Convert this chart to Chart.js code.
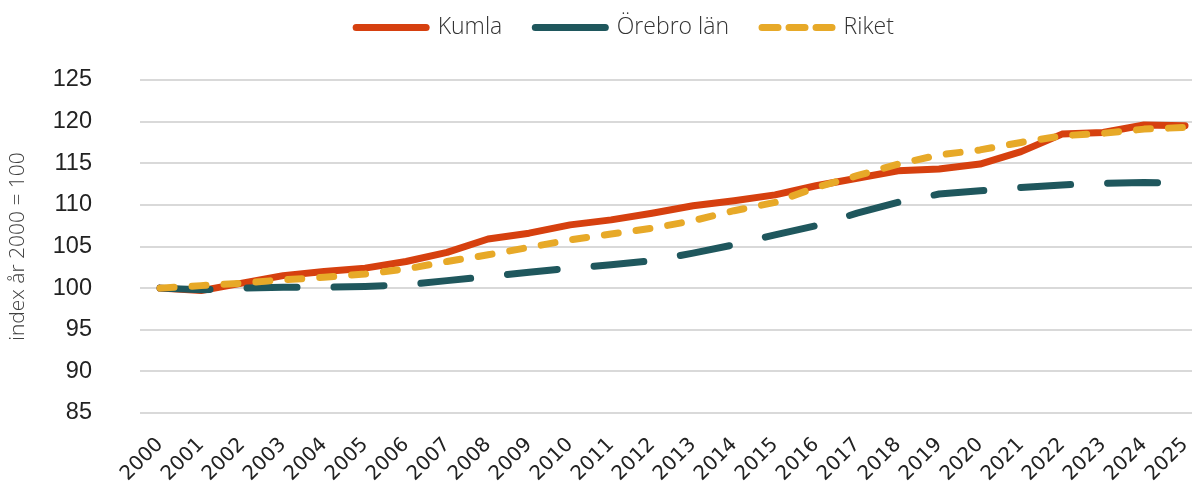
<!DOCTYPE html>
<html>
<head>
<meta charset="utf-8">
<script src="https://cdn.jsdelivr.net/npm/chart.js@4"></script>
<style>
  html, body { margin: 0; padding: 0; background: #fff; overflow: hidden; }
  #wrap { width: 1192px; height: 484px; }
</style>
</head>
<body>
<div id="wrap"><canvas id="graf"></canvas></div>
<script>
// data
const ar = [2000, 2001, 2002, 2003, 2004, 2005, 2006, 2007, 2008, 2009, 2010, 2011, 2012,
            2013, 2014, 2015, 2016, 2017, 2018, 2019, 2020, 2021, 2022, 2023, 2024, 2025];
const kumla  = [100, 99.7, 100.6, 101.5, 102.0, 102.4, 103.2, 104.3, 105.9, 106.6, 107.6, 108.2, 109.0,
                109.9, 110.5, 111.2, 112.3, 113.2, 114.1, 114.3, 114.9, 116.4, 118.5, 118.7, 119.6, 119.5];
const orebro = [100, 99.8, 100.0, 100.1, 100.1, 100.2, 100.4, 100.9, 101.4, 101.9, 102.4, 102.8, 103.3,
                104.2, 105.2, 106.4, 107.5, 109.0, 110.3, 111.3, 111.7, 112.1, 112.4, 112.6, 112.7, 112.6];
const riket  = [100, 100.3, 100.6, 101.0, 101.3, 101.7, 102.3, 103.2, 104.0, 104.9, 105.8, 106.5, 107.2,
                108.1, 109.3, 110.3, 112.1, 113.5, 114.9, 116.0, 116.6, 117.5, 118.3, 118.6, 119.1, 119.3];
const yTicks = [85, 90, 95, 100, 105, 110, 115, 120, 125];

const punkter = serie => serie.map((v, i) => ({ x: ar[i], y: v }));

// streck i förklaringen (legend) skiljer sig lite från linjen
const legendStreck = [[], [], [16, 11]];

function linje(namn, serie, farg, streck, ordning) {
  return {
    label: namn,
    data: punkter(serie),
    borderColor: farg,
    backgroundColor: farg,
    borderWidth: 7,
    borderDash: streck,
    borderCapStyle: "round",
    borderJoinStyle: "round",
    pointRadius: 0,
    tension: 0,
    order: ordning
  };
}

// extra luft under förklaringen, och lite förskjutning åt höger
const legendLuft = {
  id: "legendLuft",
  beforeInit(chart) {
    const fit = chart.legend.fit;
    chart.legend.fit = function () {
      fit.bind(chart.legend)();
      this.height += 31;
    };
  },
  afterLayout(chart) {
    chart.legend.left += 29;
    chart.legend.right += 29;
  }
};

new Chart(document.getElementById("graf"), {
  type: "line",
  data: {
    datasets: [
      linje("Kumla", kumla, "#d6400f", [], 3),
      linje("Örebro län", orebro, "#1f575d", [50, 37], 2),
      linje("Riket", riket, "#e7a928", [14, 18], 1)
    ]
  },
  plugins: [legendLuft],
  options: {
    responsive: true,
    maintainAspectRatio: false,
    animation: false,
    layout: { padding: { left: 0, right: 0, top: -17, bottom: 0 } },
    plugins: {
      tooltip: { enabled: false },
      legend: {
        position: "top",
        labels: {
          usePointStyle: true,
          pointStyle: "line",
          pointStyleWidth: 70,
          padding: 33,
          color: "#333",
          font: { family: "'Open Sans', sans-serif", size: 23, weight: "300" },
          sort: (a, b) => a.datasetIndex - b.datasetIndex,
          generateLabels: chart => {
            const items = Chart.defaults.plugins.legend.labels.generateLabels(chart);
            items.forEach(it => {
              const ds = chart.data.datasets[it.datasetIndex];
              it.lineDash = legendStreck[it.datasetIndex];
              it.lineWidth = 7;
              it.lineCap = "round";
              it.strokeStyle = ds.borderColor;
              it.fillStyle = ds.borderColor;
            });
            return items;
          }
        }
      }
    },
    scales: {
      x: {
        type: "linear",
        min: 1999.51,
        max: 2025.17,
        afterBuildTicks: skala => {
          skala.ticks = ar.map(a => ({ value: a }));
        },
        afterFit: skala => {
          skala.paddingLeft = 0;
          skala.paddingRight = 0;
          skala.height = 71;
        },
        grid: { display: false, drawTicks: false },
        border: { display: false },
        ticks: {
          minRotation: 45,
          maxRotation: 45,
          padding: 20,
          color: "#222",
          font: { family: "'DejaVu Sans', sans-serif", size: 20 },
          callback: v => String(v)
        }
      },
      y: {
        min: 85,
        max: 125,
        afterBuildTicks: skala => {
          skala.ticks = yTicks.map(v => ({ value: v }));
        },
        afterFit: skala => {
          skala.width = 140;
        },
        grid: { color: "#d9d9d9", lineWidth: 2, drawTicks: false },
        border: { display: false },
        ticks: {
          padding: 48,
          color: "#222",
          font: { family: "'Liberation Sans', Arial, sans-serif", size: 23.5 }
        },
        title: {
          display: true,
          text: "index år 2000 = 100",
          color: "#404040",
          padding: { top: 5, bottom: 0 },
          font: { family: "'Open Sans', sans-serif", size: 21, weight: "300" }
        }
      }
    }
  }
});
</script>
</body>
</html>
